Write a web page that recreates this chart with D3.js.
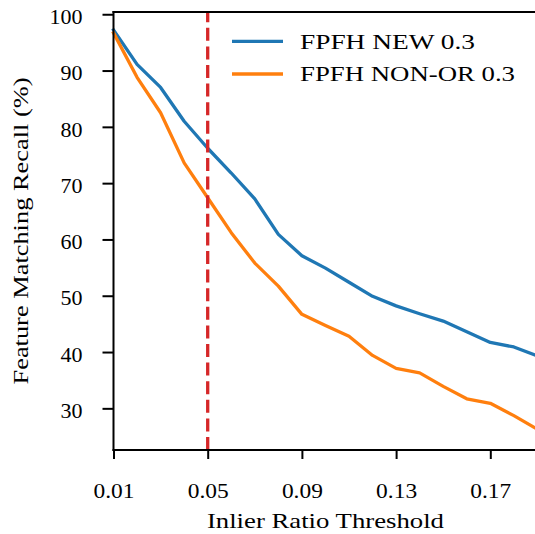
<!DOCTYPE html>
<html>
<head>
<meta charset="utf-8">
<script src="https://cdn.jsdelivr.net/npm/d3@7"></script>
<style>
  html, body { margin: 0; padding: 0; background: #fff; }
  svg { display: block; }
</style>
</head>
<body>
<div class="chart"></div>
<script>
// Parameters
const width = 535;
const height = 534;
const margin = { top: 12, right: -2.4, bottom: 84, left: 113.5 };
const fontFamily = '"Liberation Serif", "Times New Roman", serif';

// Data
const thresholds = [0.01, 0.02, 0.03, 0.04, 0.05, 0.06, 0.07, 0.08, 0.09, 0.10,
                    0.11, 0.12, 0.13, 0.14, 0.15, 0.16, 0.17, 0.18, 0.19];
const recallNew = [97.2, 91.1, 87.0, 81.0, 76.2, 71.8, 67.2, 60.9, 57.1, 54.9,
                   52.4, 49.9, 48.2, 46.8, 45.5, 43.6, 41.7, 40.9, 39.3];
const recallNonOr = [96.7, 88.8, 82.5, 73.6, 67.4, 61.2, 55.8, 51.7, 46.7, 44.7,
                     42.8, 39.4, 37.1, 36.3, 33.9, 31.7, 30.9, 28.7, 26.3];
const seriesNames = ['FPFH NEW 0.3', 'FPFH NON-OR 0.3'];
const seriesColors = ['#1f77b4', '#ff7f0e'];
const xTicks = [0.01, 0.05, 0.09, 0.13, 0.17];
const yTicks = [30, 40, 50, 60, 70, 80, 90, 100];
const chosenThreshold = 0.05;

function drawGraph() {
    const svg = d3.select('.chart')
        .append('svg')
        .attr('width', width)
        .attr('height', height)
        .style('font-family', fontFamily);

    // scales
    const scaleX = d3.scaleLinear()
        .domain([0.01, 0.19])
        .range([margin.left, width - margin.right]);

    const scaleY = d3.scaleLinear()
        .domain([22.6, 100.4])
        .range([height - margin.bottom, margin.top]);

    const x0 = scaleX.range()[0], x1 = scaleX.range()[1];
    const y0 = scaleY.range()[0], y1 = scaleY.range()[1];

    // series lines
    const series = [recallNew, recallNonOr];
    const line = d3.line()
        .x((d, i) => scaleX(thresholds[i]))
        .y(d => scaleY(d));

    svg.append('g')
        .selectAll('path')
        .data(series)
        .join('path')
        .attr('d', d => line(d))
        .attr('fill', 'none')
        .attr('stroke', (d, i) => seriesColors[i])
        .attr('stroke-width', 3.3)
        .attr('stroke-linejoin', 'round')
        .attr('stroke-linecap', 'square');

    // vertical dashed line at chosen threshold
    svg.append('line')
        .attr('x1', scaleX(chosenThreshold))
        .attr('x2', scaleX(chosenThreshold))
        .attr('y1', y0)
        .attr('y2', y1)
        .attr('stroke', '#d62728')
        .attr('stroke-width', 3.3)
        .attr('stroke-dasharray', '13 5.6');

    // axes
    const axisY = svg.append('g')
        .attr('transform', `translate(${x0}, 0)`)
        .call(d3.axisLeft(scaleY).tickValues(yTicks).tickSize(11).tickSizeOuter(0).tickPadding(20));
    axisY.select('.domain').remove();
    axisY.selectAll('.tick line').attr('stroke', '#000').attr('stroke-width', 2);
    axisY.selectAll('.tick text')
        .attr('fill', '#000')
        .attr('font-size', 22)
        .attr('font-family', fontFamily)
        .attr('dy', '0.42em');

    const axisX = svg.append('g')
        .attr('transform', `translate(0, ${y0})`)
        .call(d3.axisBottom(scaleX).tickValues(xTicks).tickSize(9).tickSizeOuter(0)
            .tickFormat(d3.format('.2f')));
    axisX.select('.domain').remove();
    axisX.selectAll('.tick line').attr('stroke', '#000').attr('stroke-width', 2);
    axisX.selectAll('.tick text')
        .attr('fill', '#000')
        .attr('font-size', 22)
        .attr('font-family', fontFamily)
        .attr('y', 48)
        .attr('dy', 0)
        .attr('textLength', 41)
        .attr('lengthAdjust', 'spacingAndGlyphs');

    // spines (left, bottom, top)
    const spines = svg.append('g')
        .attr('stroke', '#000')
        .attr('stroke-width', 2)
        .attr('stroke-linecap', 'square');
    spines.append('line').attr('x1', x0).attr('x2', x0).attr('y1', y0).attr('y2', y1);
    spines.append('line').attr('x1', x0).attr('x2', x1).attr('y1', y0).attr('y2', y0);
    spines.append('line').attr('x1', x0).attr('x2', x1).attr('y1', y1).attr('y2', y1);

    // axis titles
    svg.append('text')
        .attr('x', (x0 + x1) / 2)
        .attr('y', 528)
        .attr('text-anchor', 'middle')
        .attr('font-size', 22)
        .attr('textLength', 237)
        .attr('lengthAdjust', 'spacingAndGlyphs')
        .text('Inlier Ratio Threshold');

    svg.append('text')
        .attr('transform', `translate(28, ${(y0 + y1) / 2}) rotate(-90)`)
        .attr('text-anchor', 'middle')
        .attr('font-size', 22)
        .attr('textLength', 307)
        .attr('lengthAdjust', 'spacingAndGlyphs')
        .text('Feature Matching Recall (%)');

    // legend
    const legendWidths = [175, 215];
    const legend = svg.append('g')
        .selectAll('g')
        .data(seriesNames)
        .join('g')
        .attr('transform', (d, i) => `translate(232, ${41.3 + i * 32.7})`);

    legend.append('line')
        .attr('x1', 0)
        .attr('x2', 51)
        .attr('stroke', (d, i) => seriesColors[i])
        .attr('stroke-width', 3.3);

    legend.append('text')
        .attr('x', 68)
        .attr('y', 7.2)
        .attr('font-size', 22)
        .attr('textLength', (d, i) => legendWidths[i])
        .attr('lengthAdjust', 'spacingAndGlyphs')
        .text(d => d);
}

drawGraph();
</script>
</body>
</html>
